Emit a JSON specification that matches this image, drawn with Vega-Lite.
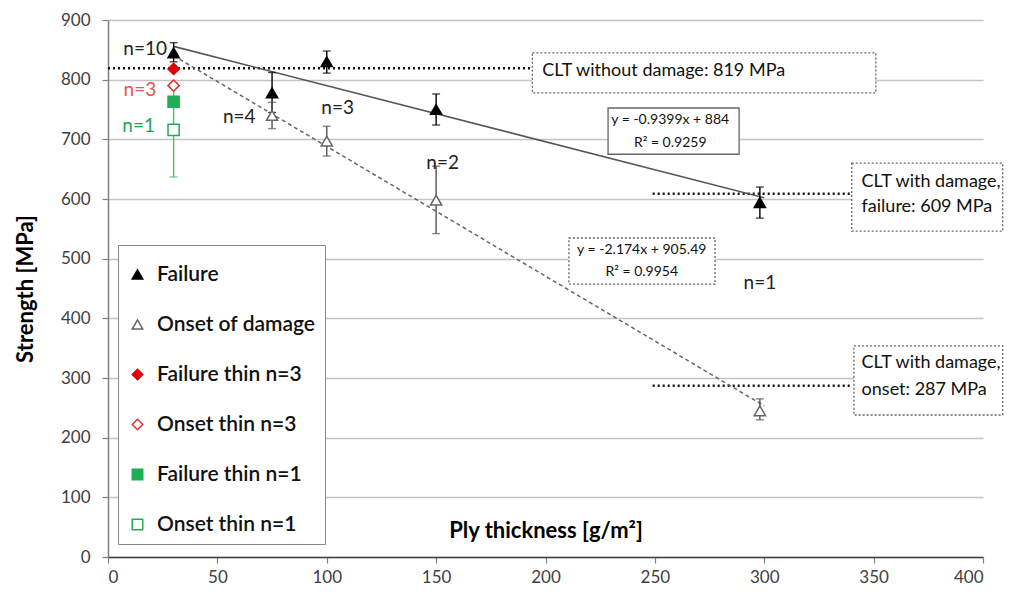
{
  "$schema": "https://vega.github.io/schema/vega-lite/v6.json",
  "width": 875,
  "height": 537,
  "autosize": {"type": "none"},
  "padding": {"left": 108, "top": 20, "right": 39, "bottom": 39},
  "background": "white",
  "config": {
    "font": "Lato",
    "view": {"stroke": null},
    "axis": {"labelFont": "Lato", "titleFont": "Lato", "labelFontSize": 17, "labelColor": "#404040", "titleColor": "#000", "titleFontWeight": "bold", "titleFontSize": 22, "tickSize": 6, "tickColor": "#808080", "domainColor": "#808080", "domainWidth": 1.5, "tickWidth": 1.2},
    "axisX": {"grid": false, "domainColor": "#404040", "labelPadding": 6},
    "axisY": {"grid": true, "gridColor": "#c4c4c4", "gridWidth": 1.5, "labelPadding": 12}
  },
  "datasets": {
    "points": [
      {"series": "Failure", "x": 30, "y": 845, "lo": 830, "hi": 862},
      {"series": "Failure", "x": 75, "y": 778, "lo": 745, "hi": 812},
      {"series": "Failure", "x": 100, "y": 830, "lo": 811, "hi": 848},
      {"series": "Failure", "x": 150, "y": 750, "lo": 724, "hi": 776},
      {"series": "Failure", "x": 298, "y": 594, "lo": 568, "hi": 620},
      {"series": "Onset of damage", "x": 75, "y": 740, "lo": 718, "hi": 762},
      {"series": "Onset of damage", "x": 100, "y": 697, "lo": 672, "hi": 722},
      {"series": "Onset of damage", "x": 150, "y": 598, "lo": 542, "hi": 655},
      {"series": "Onset of damage", "x": 298, "y": 245, "lo": 230, "hi": 265},
      {"series": "Onset thin n=1", "x": 30, "y": 716, "lo": 637, "hi": 795},
      {"series": "Onset thin n=3", "x": 30, "y": 790},
      {"series": "Failure thin n=3", "x": 30, "y": 818},
      {"series": "Failure thin n=1", "x": 30, "y": 763}
    ],
    "refs": [
      {"x": 0, "x2": 194, "y": 819},
      {"x": 249, "x2": 340, "y": 609},
      {"x": 249, "x2": 340, "y": 287}
    ],
    "trendSolid": [{"x": 30, "y": 855.8, "x2": 300, "y2": 602}],
    "trendDashed": [{"x": 30, "y": 840.3, "x2": 300, "y2": 253.3}],
    "boxesDotted": [
      {"x": 194, "x2": 351, "y": 778, "y2": 845},
      {"x": 340, "x2": 409, "y": 546, "y2": 660},
      {"x": 341, "x2": 409, "y": 238, "y2": 354},
      {"x": 210.7, "x2": 277.5, "y": 457.5, "y2": 534.6}
    ],
    "boxesSolid": [
      {"x": 228.6, "x2": 288.5, "y": 675, "y2": 752.5}
    ],
    "annot": [
      {"x": 198.5, "y": 815, "text": "CLT without damage: 819 MPa"},
      {"x": 344.5, "y": 628, "text": "CLT with damage,"},
      {"x": 344.5, "y": 587, "text": "failure: 609 MPa"},
      {"x": 344.5, "y": 325, "text": "CLT with damage,"},
      {"x": 344.5, "y": 280, "text": "onset: 287 MPa"}
    ],
    "eqs": [
      {"x": 257, "y": 732, "text": "y = -0.9399x + 884"},
      {"x": 257, "y": 694, "text": "R² = 0.9259"},
      {"x": 244, "y": 514, "text": "y = -2.174x + 905.49"},
      {"x": 244, "y": 478, "text": "R² = 0.9954"}
    ],
    "nBlack": [
      {"x": 17, "y": 851, "text": "n=10"},
      {"x": 60, "y": 737, "text": "n=4"},
      {"x": 105, "y": 752, "text": "n=3"},
      {"x": 153, "y": 660, "text": "n=2"},
      {"x": 298, "y": 459, "text": "n=1"}
    ],
    "nRed": [{"x": 14.6, "y": 783, "text": "n=3"}],
    "nGreen": [{"x": 14, "y": 722, "text": "n=1"}]
  },
  "layer": [
    {
      "data": {"name": "refs"},
      "mark": {"type": "rule", "color": "#111", "strokeWidth": 2.5, "strokeDash": [2, 3]},
      "encoding": {
        "x": {"field": "x", "type": "quantitative", "scale": {"domain": [0, 400], "nice": false}, "axis": {"values": [0, 50, 100, 150, 200, 250, 300, 350, 400], "title": "Ply thickness [g/m²]", "titleY": -20, "titleBaseline": "alphabetic"}},
        "x2": {"field": "x2"},
        "y": {"field": "y", "type": "quantitative", "scale": {"domain": [0, 900], "nice": false}, "axis": {"values": [0, 100, 200, 300, 400, 500, 600, 700, 800, 900], "title": "Strength [MPa]", "titlePadding": 23}}
      }
    },
    {
      "data": {"name": "trendSolid"},
      "mark": {"type": "rule", "color": "#555", "strokeWidth": 1.6},
      "encoding": {
        "x": {"field": "x", "type": "quantitative"},
        "x2": {"field": "x2"},
        "y": {"field": "y", "type": "quantitative"},
        "y2": {"field": "y2"}
      }
    },
    {
      "data": {"name": "trendDashed"},
      "mark": {"type": "rule", "color": "#666", "strokeWidth": 1.5, "strokeDash": [4, 3]},
      "encoding": {
        "x": {"field": "x", "type": "quantitative"},
        "x2": {"field": "x2"},
        "y": {"field": "y", "type": "quantitative"},
        "y2": {"field": "y2"}
      }
    },
    {
      "data": {"name": "boxesDotted"},
      "mark": {"type": "rect", "fill": "white", "stroke": "#666", "strokeWidth": 1.3, "strokeDash": [2, 2]},
      "encoding": {
        "x": {"field": "x", "type": "quantitative"},
        "x2": {"field": "x2"},
        "y": {"field": "y", "type": "quantitative"},
        "y2": {"field": "y2"}
      }
    },
    {
      "data": {"name": "boxesSolid"},
      "mark": {"type": "rect", "fill": "white", "stroke": "#666", "strokeWidth": 1.3},
      "encoding": {
        "x": {"field": "x", "type": "quantitative"},
        "x2": {"field": "x2"},
        "y": {"field": "y", "type": "quantitative"},
        "y2": {"field": "y2"}
      }
    },
    {
      "data": {"name": "points"},
      "transform": [{"filter": "isValid(datum.lo)"}],
      "mark": {"type": "rule", "strokeWidth": 1.4},
      "encoding": {
        "x": {"field": "x", "type": "quantitative"},
        "y": {"field": "lo", "type": "quantitative"},
        "y2": {"field": "hi"},
        "color": {"field": "series", "type": "nominal", "legend": null, "scale": {"domain": ["Failure", "Onset of damage", "Onset thin n=1"], "range": ["#000000", "#555555", "#4cb870"]}}
      }
    },
    {
      "data": {"name": "points"},
      "transform": [{"filter": "isValid(datum.lo)"}, {"fold": ["lo", "hi"], "as": ["end", "yc"]}],
      "mark": {"type": "tick", "orient": "horizontal", "size": 8, "thickness": 1.4},
      "encoding": {
        "x": {"field": "x", "type": "quantitative"},
        "y": {"field": "yc", "type": "quantitative"},
        "color": {"field": "series", "type": "nominal", "legend": null}
      }
    },
    {
      "data": {"name": "points"},
      "mark": {"type": "point", "filled": true, "size": 125, "strokeWidth": 1.5, "opacity": 1},
      "encoding": {
        "x": {"field": "x", "type": "quantitative"},
        "y": {"field": "y", "type": "quantitative"},
        "shape": {"field": "series", "type": "nominal", "scale": {"domain": ["Failure", "Onset of damage", "Failure thin n=3", "Onset thin n=3", "Failure thin n=1", "Onset thin n=1"], "range": ["triangle-up", "triangle-up", "diamond", "diamond", "square", "square"]},
          "legend": {"orient": "none", "legendX": 10, "legendY": 225, "title": " ", "titleFontSize": 6, "titlePadding": 4, "labelFont": "Lato", "labelFontSize": 21, "labelFontWeight": 600, "labelColor": "#111", "symbolSize": 110, "symbolStrokeWidth": 1.5, "rowPadding": 28, "padding": 9, "strokeColor": "#888", "fillColor": "white", "labelOffset": 9, "symbolOpacity": 1}},
        "fill": {"field": "series", "type": "nominal", "scale": {"domain": ["Failure", "Onset of damage", "Failure thin n=3", "Onset thin n=3", "Failure thin n=1", "Onset thin n=1"], "range": ["#000000", "#ffffff", "#e00000", "#ffffff", "#1fae55", "#ffffff"]}},
        "stroke": {"field": "series", "type": "nominal", "scale": {"domain": ["Failure", "Onset of damage", "Failure thin n=3", "Onset thin n=3", "Failure thin n=1", "Onset thin n=1"], "range": ["#000000", "#666666", "#e00000", "#e03030", "#1fae55", "#1fae55"]}}
      }
    },
    {
      "data": {"name": "annot"},
      "mark": {"type": "text", "align": "left", "baseline": "middle", "fontSize": 18, "color": "#111", "font": "Lato"},
      "encoding": {
        "x": {"field": "x", "type": "quantitative"},
        "y": {"field": "y", "type": "quantitative"},
        "text": {"field": "text"}
      }
    },
    {
      "data": {"name": "eqs"},
      "mark": {"type": "text", "align": "center", "baseline": "middle", "fontSize": 14, "color": "#111", "font": "Lato"},
      "encoding": {
        "x": {"field": "x", "type": "quantitative"},
        "y": {"field": "y", "type": "quantitative"},
        "text": {"field": "text"}
      }
    },
    {
      "data": {"name": "nBlack"},
      "mark": {"type": "text", "align": "center", "baseline": "middle", "fontSize": 19, "color": "#222", "font": "Lato"},
      "encoding": {
        "x": {"field": "x", "type": "quantitative"},
        "y": {"field": "y", "type": "quantitative"},
        "text": {"field": "text"}
      }
    },
    {
      "data": {"name": "nRed"},
      "mark": {"type": "text", "align": "center", "baseline": "middle", "fontSize": 19, "color": "#e8564c", "font": "Lato"},
      "encoding": {
        "x": {"field": "x", "type": "quantitative"},
        "y": {"field": "y", "type": "quantitative"},
        "text": {"field": "text"}
      }
    },
    {
      "data": {"name": "nGreen"},
      "mark": {"type": "text", "align": "center", "baseline": "middle", "fontSize": 19, "color": "#22a552", "font": "Lato"},
      "encoding": {
        "x": {"field": "x", "type": "quantitative"},
        "y": {"field": "y", "type": "quantitative"},
        "text": {"field": "text"}
      }
    }
  ]
}
